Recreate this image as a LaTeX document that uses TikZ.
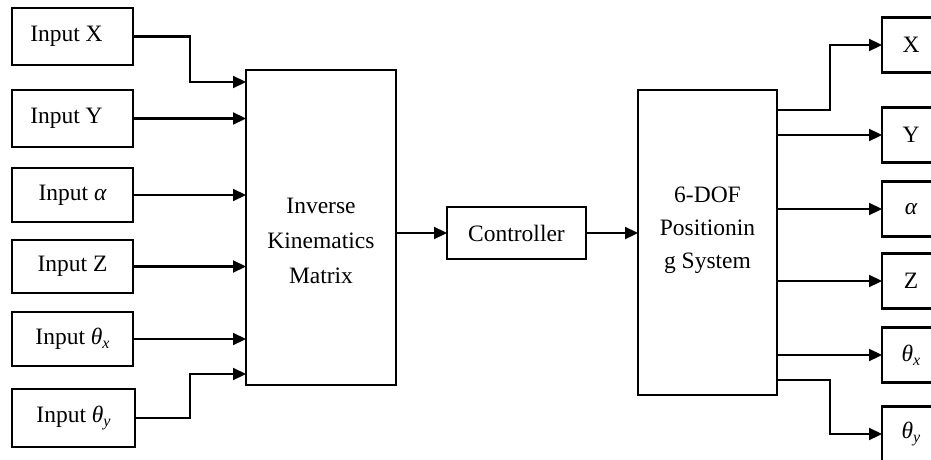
\documentclass[tikz,border=0pt]{standalone}
\usepackage{fontspec}
\setmainfont{Liberation Serif}
\usetikzlibrary{arrows.meta,calc}

\newcommand{\sym}[1]{{\itshape #1}}
\newcommand{\symsub}[2]{{\itshape #1}\raisebox{-0.35ex}{\fontsize{16}{16}\selectfont\itshape #2}}

\begin{document}
\begin{tikzpicture}[x=1pt,y=-1pt,
  every node/.style={font=\fontsize{23.5}{35}\selectfont},
  box/.style={draw, line width=2.2pt, inner sep=0pt, outer sep=0pt},
  inbox/.style={box, minimum width=121pt},
  outbox/.style={box, minimum width=58pt, minimum height=55pt},
  lbl/.style={align=center, inner sep=0pt},
  arr/.style={line width=2.2pt, -{Triangle[length=13pt,width=12pt]}},
]
\useasboundingbox (0,0) rectangle (931,460);

% input blocks
\node[inbox, minimum height=57pt] (inX)  at (72.5,36.5)  {\hspace*{-12pt}Input X};
\node[inbox, minimum height=57pt] (inY)  at (72.5,118.5) {\hspace*{-12pt}Input Y};
\node[inbox, minimum height=54pt] (inA)  at (72.5,195)   {Input \sym{α}};
\node[inbox, minimum height=53pt] (inZ)  at (72.5,266.5) {Input Z};
\node[inbox, minimum height=54pt] (inTx) at (72.5,339)   {Input \symsub{θ}{x}};
\node[inbox, minimum height=58pt, minimum width=123pt] (inTy) at (73.5,418) {Input \symsub{θ}{y}};

% processing blocks
\node[box, minimum width=150pt, minimum height=315pt] (ik) at (321,227.5) {};
\node[lbl] (iktext) at (321,241) {Inverse\\Kinematics\\Matrix};
\node[box, minimum width=139pt, minimum height=52pt] (ctrl) at (516.5,233) {Controller};
\node[box, minimum width=139pt, minimum height=305pt] (dof) at (707.5,242.5) {};
\node[lbl, font=\fontsize{23.5}{33}\selectfont] (doftext) at (707.5,230) {6-DOF\\Positionin\\g System};

% output blocks
\node[outbox] (oX)  at (911,45)  {X};
\node[outbox] (oY)  at (911,135) {Y};
\node[outbox] (oA)  at (911,209) {\sym{α}};
\node[outbox] (oZ)  at (911,281) {Z};
\node[outbox] (oTx) at (911,355) {\symsub{θ}{x}};
\node[outbox] (oTy) at (911,434) {\symsub{θ}{y}};

% inputs into the kinematics matrix
\draw[arr] (inX.east) -- ++(57,0) |- ($(ik.north west)+(0,12)$);
\draw[arr] (inY.east) -- (inY.east -| ik.west);
\draw[arr] (inA.east) -- (inA.east -| ik.west);
\draw[arr] (inZ.east) -- (inZ.east -| ik.west);
\draw[arr] (inTx.east) -- (inTx.east -| ik.west);
\draw[arr] (inTy.east) -- ++(55,0) |- ($(ik.south west)+(0,-11)$);

% main chain
\draw[arr] (ik.east |- ctrl.west) -- (ctrl.west);
\draw[arr] (ctrl.east) -- (ctrl.east -| dof.west);

% outputs of the positioning system
\draw[arr] ($(dof.north east)+(0,20)$) -- ++(53,0) |- (oX.west);
\draw[arr] (dof.east |- oY.west) -- (oY.west);
\draw[arr] (dof.east |- oA.west) -- (oA.west);
\draw[arr] (dof.east |- oZ.west) -- (oZ.west);
\draw[arr] (dof.east |- oTx.west) -- (oTx.west);
\draw[arr] ($(dof.south east)+(0,-15)$) -- ++(53,0) |- (oTy.west);
\end{tikzpicture}
\end{document}
